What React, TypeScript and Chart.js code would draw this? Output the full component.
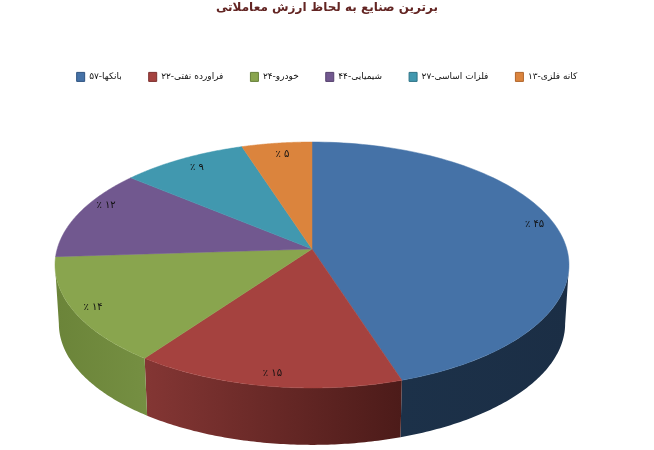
import React, { useEffect, useRef } from 'react';
import { Chart, registerables } from 'chart.js';

Chart.register(...registerables);

const titleText = 'برترین صنایع به لحاظ ارزش معاملاتی';
const categories = ['بانکها-۵۷', 'فراورده نفتی-۲۲', 'خودرو-۲۴', 'شیمیایی-۴۴', 'فلزات اساسی-۲۷', 'کانه فلزی-۱۳'];
const shares = [45, 15, 14, 12, 9, 5];
const percentLabels = ['٪ ۴۵', '٪ ۱۵', '٪ ۱۴', '٪ ۱۲', '٪ ۹', '٪ ۵'];

const topColors = ['#4572A7', '#A5423F', '#89A54E', '#71588F', '#4198AF', '#DB843D'];
const legendEdges = ['#2f5380', '#7d302e', '#67803a', '#54406d', '#2f7487', '#b0652b'];
// wall shading, left and right end of each visible wall
const wallColors = [
  ['#1c3149', '#1b2e45'],
  ['#843634', '#4c1b19'],
  ['#6b8439', '#758f42'],
  ['#54406d', '#54406d'],
  ['#2f7487', '#2f7487'],
  ['#b0652b', '#b0652b'],
];
// nudges for the labels, the original tool did not put them on a clean radius
const labelNudges = [[5, -8], [0, 6], [-11, 4], [0, -12], [0, -1], [2, 0]];

// Perspective view of the flat pie: apex, axes and foreshortening
const APEX_X = 312;
const APEX_Y = 249;
const AXIS_X = 254.8;
const AXIS_Y = 120.9;
const TILT = 0.13;
const DEPTH = 59;
const FLOOR_SCALE = 0.985;

const project = (angle: number, r: number, floor = false) => {
  const u = Math.cos(angle) * r;
  const v = Math.sin(angle) * r;
  const w = 1 - TILT * v;
  const s = floor ? FLOOR_SCALE : 1;
  return {
    x: APEX_X + (s * AXIS_X * u) / w,
    y: APEX_Y + (floor ? DEPTH : 0) + (s * AXIS_Y * v) / w,
  };
};

const tiltedPie = {
  id: 'tiltedPie',
  // The arcs come from the library, only their outline is replaced here
  beforeDatasetsDraw(chart: Chart) {
    const ctx = chart.ctx;
    const arcs = chart.getDatasetMeta(0).data as any[];
    const edge = Math.asin(TILT);

    arcs.forEach((arc, i) => {
      const start = Math.max(arc.startAngle, edge);
      const end = Math.min(arc.endAngle, Math.PI - edge);
      if (end <= start) return;
      const top: { x: number; y: number }[] = [];
      const bottom: { x: number; y: number }[] = [];
      for (let k = 0; k <= 80; k++) {
        const a = start + ((end - start) * k) / 80;
        top.push(project(a, 1));
        bottom.push(project(a, 1, true));
      }
      const xs = [...top, ...bottom].map(p => p.x);
      const grad = ctx.createLinearGradient(Math.min(...xs), 0, Math.max(...xs), 0);
      grad.addColorStop(0, wallColors[i][0]);
      grad.addColorStop(1, wallColors[i][1]);
      ctx.beginPath();
      top.forEach((p, k) => (k ? ctx.lineTo(p.x, p.y) : ctx.moveTo(p.x, p.y)));
      bottom.reverse().forEach(p => ctx.lineTo(p.x, p.y));
      ctx.closePath();
      ctx.fillStyle = grad;
      ctx.fill();
    });

    arcs.forEach((arc, i) => {
      ctx.beginPath();
      ctx.moveTo(APEX_X, APEX_Y);
      for (let k = 0; k <= 100; k++) {
        const p = project(arc.startAngle + ((arc.endAngle - arc.startAngle) * k) / 100, 1);
        ctx.lineTo(p.x, p.y);
      }
      ctx.closePath();
      ctx.fillStyle = topColors[i];
      ctx.strokeStyle = topColors[i];
      ctx.lineWidth = 0.5;
      ctx.fill();
      ctx.stroke();
    });

    ctx.save();
    ctx.font = '10px "DejaVu Sans"';
    ctx.fillStyle = '#111111';
    ctx.textAlign = 'center';
    ctx.textBaseline = 'middle';
    arcs.forEach((arc, i) => {
      const p = project((arc.startAngle + arc.endAngle) / 2, 0.88);
      ctx.fillText(percentLabels[i], p.x + labelNudges[i][0], p.y + labelNudges[i][1]);
    });
    ctx.restore();

    return false;
  },
};

export default function App() {
  const chartRef = useRef<HTMLCanvasElement>(null);

  useEffect(() => {
    if (!chartRef.current) return;
    const chart = new Chart(chartRef.current, {
      type: 'pie',
      data: {
        labels: categories,
        datasets: [{ data: shares, backgroundColor: topColors, borderColor: legendEdges, borderWidth: 1 }],
      },
      options: {
        responsive: false,
        animation: false,
        plugins: {
          title: {
            display: true,
            text: titleText,
            color: '#632523',
            font: { family: '"DejaVu Sans"', size: 12, weight: 'bold' },
            padding: { top: 1, bottom: 30 },
          },
          legend: {
            position: 'top',
            labels: {
              boxWidth: 8,
              boxHeight: 9,
              padding: 27,
              color: '#111111',
              font: { family: '"DejaVu Sans"', size: 9 },
            },
          },
          tooltip: { enabled: false },
        },
      },
      plugins: [tiltedPie],
    });
    return () => chart.destroy();
  }, []);

  return (
    <div style={{ position: 'absolute', left: 0, top: 0, width: 654, height: 450, background: '#fff' }}>
      <canvas ref={chartRef} width={654} height={450} style={{ display: 'block' }} />
    </div>
  );
}
